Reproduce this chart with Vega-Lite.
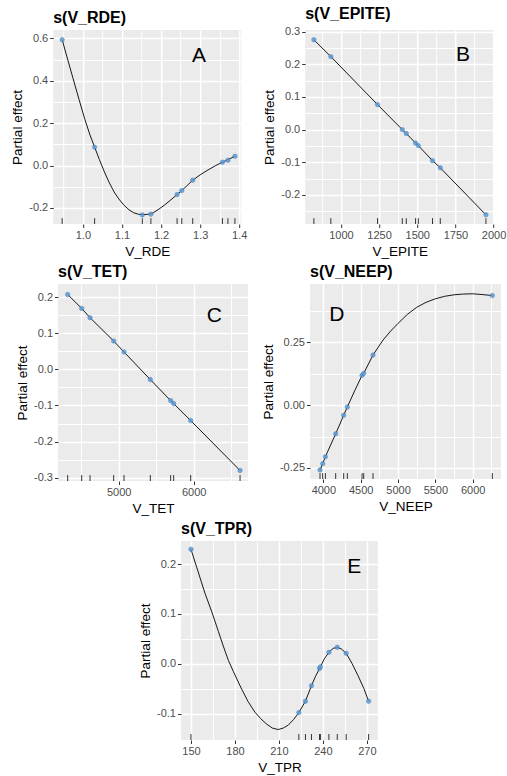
{
"$schema": "https://vega.github.io/schema/vega-lite/v6.json",
"padding": {"left": 10, "top": 5, "right": 2, "bottom": 2},
"datasets": {
"A_pts": [{"x":0.947,"y":0.594},{"x":1.030,"y":0.087},{"x":1.152,"y":-0.233},{"x":1.174,"y":-0.230},{"x":1.241,"y":-0.137},{"x":1.253,"y":-0.118},{"x":1.281,"y":-0.069},{"x":1.357,"y":0.016},{"x":1.371,"y":0.025},{"x":1.389,"y":0.044}],
"A_curve": [{"x":0.947,"y":0.594},{"x":0.960,"y":0.508},{"x":0.975,"y":0.410},{"x":0.990,"y":0.313},{"x":1.005,"y":0.218},{"x":1.018,"y":0.145},{"x":1.030,"y":0.087},{"x":1.042,"y":0.029},{"x":1.055,"y":-0.030},{"x":1.068,"y":-0.083},{"x":1.080,"y":-0.125},{"x":1.092,"y":-0.158},{"x":1.105,"y":-0.187},{"x":1.118,"y":-0.209},{"x":1.130,"y":-0.223},{"x":1.142,"y":-0.230},{"x":1.155,"y":-0.232},{"x":1.168,"y":-0.230},{"x":1.180,"y":-0.223},{"x":1.195,"y":-0.205},{"x":1.210,"y":-0.185},{"x":1.225,"y":-0.162},{"x":1.241,"y":-0.137},{"x":1.253,"y":-0.118},{"x":1.267,"y":-0.094},{"x":1.281,"y":-0.069},{"x":1.300,"y":-0.044},{"x":1.320,"y":-0.021},{"x":1.340,"y":0.000},{"x":1.357,"y":0.016},{"x":1.371,"y":0.028},{"x":1.389,"y":0.044}],
"B_pts": [{"x":823,"y":0.275},{"x":934,"y":0.2235},{"x":1240,"y":0.0765},{"x":1402,"y":0.0},{"x":1428,"y":-0.012},{"x":1489,"y":-0.041},{"x":1507,"y":-0.049},{"x":1600,"y":-0.095},{"x":1651,"y":-0.117},{"x":1950,"y":-0.261}],
"C_pts": [{"x":4320,"y":0.207},{"x":4507,"y":0.1685},{"x":4618,"y":0.1427},{"x":4933,"y":0.0783},{"x":5071,"y":0.0479},{"x":5422,"y":-0.0285},{"x":5693,"y":-0.0866},{"x":5733,"y":-0.0948},{"x":5960,"y":-0.1418},{"x":6618,"y":-0.280}],
"D_pts": [{"x":3955,"y":-0.258},{"x":3991,"y":-0.233},{"x":4027,"y":-0.205},{"x":4165,"y":-0.114},{"x":4272,"y":-0.040},{"x":4321,"y":-0.007},{"x":4518,"y":0.119},{"x":4540,"y":0.127},{"x":4665,"y":0.200},{"x":6263,"y":0.437}],
"D_curve": [{"x":3955,"y":-0.258},{"x":3991,"y":-0.233},{"x":4027,"y":-0.205},{"x":4165,"y":-0.114},{"x":4272,"y":-0.040},{"x":4321,"y":-0.007},{"x":4420,"y":0.058},{"x":4518,"y":0.119},{"x":4540,"y":0.127},{"x":4665,"y":0.200},{"x":4800,"y":0.260},{"x":4900,"y":0.295},{"x":5000,"y":0.326},{"x":5125,"y":0.362},{"x":5250,"y":0.390},{"x":5375,"y":0.410},{"x":5500,"y":0.424},{"x":5625,"y":0.434},{"x":5750,"y":0.440},{"x":5875,"y":0.443},{"x":6000,"y":0.444},{"x":6125,"y":0.441},{"x":6263,"y":0.437}],
"E_pts": [{"x":150,"y":0.230},{"x":223.6,"y":-0.098},{"x":228.1,"y":-0.075},{"x":232.2,"y":-0.044},{"x":237.7,"y":-0.0094},{"x":238.3,"y":-0.006},{"x":244.1,"y":0.023},{"x":249.8,"y":0.033},{"x":255.9,"y":0.021},{"x":271.2,"y":-0.075}],
"E_curve": [{"x":150,"y":0.230},{"x":154,"y":0.193},{"x":159.5,"y":0.142},{"x":164,"y":0.106},{"x":168.7,"y":0.065},{"x":172,"y":0.036},{"x":175.5,"y":0.007},{"x":179,"y":-0.016},{"x":184.6,"y":-0.051},{"x":189,"y":-0.076},{"x":193.6,"y":-0.097},{"x":197.5,"y":-0.110},{"x":201.6,"y":-0.121},{"x":205.5,"y":-0.129},{"x":209.5,"y":-0.132},{"x":213,"y":-0.129},{"x":216.4,"y":-0.123},{"x":220,"y":-0.112},{"x":223.6,"y":-0.098},{"x":228.1,"y":-0.075},{"x":232.2,"y":-0.044},{"x":235,"y":-0.025},{"x":238,"y":-0.008},{"x":241,"y":0.010},{"x":244.1,"y":0.023},{"x":247,"y":0.031},{"x":249.8,"y":0.033},{"x":252.5,"y":0.030},{"x":255.9,"y":0.021},{"x":260,"y":0.000},{"x":264,"y":-0.024},{"x":268,"y":-0.050},{"x":271.2,"y":-0.075}]
},
"vconcat": [
{"hconcat": [
{"title": "s(V_RDE)", "width": 188, "height": 194,
 "layer": [
  {"data": {"name": "A_curve"}, "mark": {"type": "line", "color": "#000000", "strokeWidth": 0.9},
   "encoding": {
    "x": {"field": "x", "type": "quantitative", "scale": {"domain": [0.924, 1.405], "nice": false, "zero": false},
      "axis": {"title": "V_RDE", "values": [0.95, 1.0, 1.05, 1.1, 1.15, 1.2, 1.25, 1.3, 1.35, 1.4], "tickCount": 40, "format": ".1f", "labelOverlap": false,
        "labelExpr": "indexof([0.95, 1.05, 1.15, 1.25, 1.35], datum.value) >= 0 ? '' : datum.label",
        "gridWidth": {"condition": {"test": "indexof([0.95, 1.05, 1.15, 1.25, 1.35], datum.value) >= 0", "value": 1}, "value": 1.5},
        "tickOpacity": {"condition": {"test": "indexof([0.95, 1.05, 1.15, 1.25, 1.35], datum.value) >= 0", "value": 0}, "value": 1}}},
    "y": {"field": "y", "type": "quantitative", "scale": {"domain": [-0.276, 0.64], "nice": false, "zero": false},
      "axis": {"title": "Partial effect", "values": [-0.2, -0.1, 0, 0.1, 0.2, 0.3, 0.4, 0.5, 0.6], "tickCount": 40, "format": ".1f", "labelOverlap": false,
        "labelExpr": "indexof([-0.1, 0.1, 0.3, 0.5], datum.value) >= 0 ? '' : datum.label",
        "gridWidth": {"condition": {"test": "indexof([-0.1, 0.1, 0.3, 0.5], datum.value) >= 0", "value": 1}, "value": 1.5},
        "tickOpacity": {"condition": {"test": "indexof([-0.1, 0.1, 0.3, 0.5], datum.value) >= 0", "value": 0}, "value": 1}}}}},
  {"data": {"name": "A_pts"}, "mark": {"type": "circle", "size": 20, "color": "#5B9BD5", "opacity": 0.85, "stroke": "#3A75B0", "strokeWidth": 0.5},
   "encoding": {
    "x": {"field": "x", "type": "quantitative", "scale": {"domain": [0.924, 1.405], "nice": false, "zero": false}},
    "y": {"field": "y", "type": "quantitative", "scale": {"domain": [-0.276, 0.64], "nice": false, "zero": false}}}},
  {"data": {"name": "A_pts"}, "mark": {"type": "rule", "color": "#333333", "strokeWidth": 1},
   "encoding": {
    "x": {"field": "x", "type": "quantitative", "scale": {"domain": [0.924, 1.405], "nice": false, "zero": false}},
    "y": {"datum": -0.276, "type": "quantitative", "scale": {"domain": [-0.276, 0.64], "nice": false, "zero": false}},
    "y2": {"datum": -0.2485}}},
  {"data": {"values": [{"label": "A"}]}, "mark": {"type": "text", "fontSize": 21, "color": "#000000", "align": "center", "baseline": "middle"},
   "encoding": {
    "text": {"field": "label"},
    "x": {"datum": 1.297, "type": "quantitative", "scale": {"domain": [0.924, 1.405], "nice": false, "zero": false}},
    "y": {"datum": 0.515, "type": "quantitative", "scale": {"domain": [-0.276, 0.64], "nice": false, "zero": false}}}}
 ]},
{"title": "s(V_EPITE)", "width": 189, "height": 194,
 "layer": [
  {"data": {"name": "B_pts"}, "mark": {"type": "line", "color": "#000000", "strokeWidth": 0.9},
   "encoding": {
    "x": {"field": "x", "type": "quantitative", "scale": {"domain": [766, 2004], "nice": false, "zero": false},
      "axis": {"title": "V_EPITE", "values": [875, 1000, 1125, 1250, 1375, 1500, 1625, 1750, 1875, 2000], "tickCount": 40, "format": "d", "labelOverlap": false,
        "labelExpr": "indexof([875, 1125, 1375, 1625, 1875], datum.value) >= 0 ? '' : datum.label",
        "gridWidth": {"condition": {"test": "indexof([875, 1125, 1375, 1625, 1875], datum.value) >= 0", "value": 1}, "value": 1.5},
        "tickOpacity": {"condition": {"test": "indexof([875, 1125, 1375, 1625, 1875], datum.value) >= 0", "value": 0}, "value": 1}}},
    "y": {"field": "y", "type": "quantitative", "scale": {"domain": [-0.289, 0.305], "nice": false, "zero": false},
      "axis": {"title": "Partial effect", "values": [-0.25, -0.2, -0.15, -0.1, -0.05, 0, 0.05, 0.1, 0.15, 0.2, 0.25, 0.3], "tickCount": 40, "format": ".1f", "labelOverlap": false,
        "labelExpr": "indexof([-0.25, -0.15, -0.05, 0.05, 0.15, 0.25], datum.value) >= 0 ? '' : datum.label",
        "gridWidth": {"condition": {"test": "indexof([-0.25, -0.15, -0.05, 0.05, 0.15, 0.25], datum.value) >= 0", "value": 1}, "value": 1.5},
        "tickOpacity": {"condition": {"test": "indexof([-0.25, -0.15, -0.05, 0.05, 0.15, 0.25], datum.value) >= 0", "value": 0}, "value": 1}}}}},
  {"data": {"name": "B_pts"}, "mark": {"type": "circle", "size": 20, "color": "#5B9BD5", "opacity": 0.85, "stroke": "#3A75B0", "strokeWidth": 0.5},
   "encoding": {
    "x": {"field": "x", "type": "quantitative", "scale": {"domain": [766, 2004], "nice": false, "zero": false}},
    "y": {"field": "y", "type": "quantitative", "scale": {"domain": [-0.289, 0.305], "nice": false, "zero": false}}}},
  {"data": {"name": "B_pts"}, "mark": {"type": "rule", "color": "#333333", "strokeWidth": 1},
   "encoding": {
    "x": {"field": "x", "type": "quantitative", "scale": {"domain": [766, 2004], "nice": false, "zero": false}},
    "y": {"datum": -0.289, "type": "quantitative", "scale": {"domain": [-0.289, 0.305], "nice": false, "zero": false}},
    "y2": {"datum": -0.2712}}},
  {"data": {"values": [{"label": "B"}]}, "mark": {"type": "text", "fontSize": 21, "color": "#000000", "align": "center", "baseline": "middle"},
   "encoding": {
    "text": {"field": "label"},
    "x": {"datum": 1799, "type": "quantitative", "scale": {"domain": [766, 2004], "nice": false, "zero": false}},
    "y": {"datum": 0.229, "type": "quantitative", "scale": {"domain": [-0.289, 0.305], "nice": false, "zero": false}}}}
 ]}
], "spacing": 15},
{"hconcat": [
{"title": "s(V_TET)", "width": 190, "height": 197,
 "layer": [
  {"data": {"name": "C_pts"}, "mark": {"type": "line", "color": "#000000", "strokeWidth": 0.9},
   "encoding": {
    "x": {"field": "x", "type": "quantitative", "scale": {"domain": [4191, 6724], "nice": false, "zero": false},
      "axis": {"title": "V_TET", "values": [4500, 5000, 5500, 6000, 6500], "tickCount": 40, "format": "d", "labelOverlap": false,
        "labelExpr": "indexof([4500, 5500, 6500], datum.value) >= 0 ? '' : datum.label",
        "gridWidth": {"condition": {"test": "indexof([4500, 5500, 6500], datum.value) >= 0", "value": 1}, "value": 1.5},
        "tickOpacity": {"condition": {"test": "indexof([4500, 5500, 6500], datum.value) >= 0", "value": 0}, "value": 1}}},
    "y": {"field": "y", "type": "quantitative", "scale": {"domain": [-0.309, 0.236], "nice": false, "zero": false},
      "axis": {"title": "Partial effect", "values": [-0.3, -0.25, -0.2, -0.15, -0.1, -0.05, 0, 0.05, 0.1, 0.15, 0.2], "tickCount": 40, "format": ".1f", "labelOverlap": false,
        "labelExpr": "indexof([-0.25, -0.15, -0.05, 0.05, 0.15], datum.value) >= 0 ? '' : datum.label",
        "gridWidth": {"condition": {"test": "indexof([-0.25, -0.15, -0.05, 0.05, 0.15], datum.value) >= 0", "value": 1}, "value": 1.5},
        "tickOpacity": {"condition": {"test": "indexof([-0.25, -0.15, -0.05, 0.05, 0.15], datum.value) >= 0", "value": 0}, "value": 1}}}}},
  {"data": {"name": "C_pts"}, "mark": {"type": "circle", "size": 20, "color": "#5B9BD5", "opacity": 0.85, "stroke": "#3A75B0", "strokeWidth": 0.5},
   "encoding": {
    "x": {"field": "x", "type": "quantitative", "scale": {"domain": [4191, 6724], "nice": false, "zero": false}},
    "y": {"field": "y", "type": "quantitative", "scale": {"domain": [-0.309, 0.236], "nice": false, "zero": false}}}},
  {"data": {"name": "C_pts"}, "mark": {"type": "rule", "color": "#333333", "strokeWidth": 1},
   "encoding": {
    "x": {"field": "x", "type": "quantitative", "scale": {"domain": [4191, 6724], "nice": false, "zero": false}},
    "y": {"datum": -0.309, "type": "quantitative", "scale": {"domain": [-0.309, 0.236], "nice": false, "zero": false}},
    "y2": {"datum": -0.2926}}},
  {"data": {"values": [{"label": "C"}]}, "mark": {"type": "text", "fontSize": 21, "color": "#000000", "align": "center", "baseline": "middle"},
   "encoding": {
    "text": {"field": "label"},
    "x": {"datum": 6276, "type": "quantitative", "scale": {"domain": [4191, 6724], "nice": false, "zero": false}},
    "y": {"datum": 0.147, "type": "quantitative", "scale": {"domain": [-0.309, 0.236], "nice": false, "zero": false}}}}
 ]},
{"title": "s(V_NEEP)", "width": 191, "height": 195,
 "layer": [
  {"data": {"name": "D_curve"}, "mark": {"type": "line", "color": "#000000", "strokeWidth": 0.9},
   "encoding": {
    "x": {"field": "x", "type": "quantitative", "scale": {"domain": [3821, 6379], "nice": false, "zero": false},
      "axis": {"title": "V_NEEP", "values": [4000, 4250, 4500, 4750, 5000, 5250, 5500, 5750, 6000, 6250], "tickCount": 40, "format": "d", "labelOverlap": false,
        "labelExpr": "indexof([4250, 4750, 5250, 5750, 6250], datum.value) >= 0 ? '' : datum.label",
        "gridWidth": {"condition": {"test": "indexof([4250, 4750, 5250, 5750, 6250], datum.value) >= 0", "value": 1}, "value": 1.5},
        "tickOpacity": {"condition": {"test": "indexof([4250, 4750, 5250, 5750, 6250], datum.value) >= 0", "value": 0}, "value": 1}}},
    "y": {"field": "y", "type": "quantitative", "scale": {"domain": [-0.294, 0.483], "nice": false, "zero": false},
      "axis": {"title": "Partial effect", "values": [-0.25, -0.125, 0, 0.125, 0.25, 0.375], "tickCount": 40, "format": ".2f", "labelOverlap": false,
        "labelExpr": "indexof([-0.125, 0.125, 0.375], datum.value) >= 0 ? '' : datum.label",
        "gridWidth": {"condition": {"test": "indexof([-0.125, 0.125, 0.375], datum.value) >= 0", "value": 1}, "value": 1.5},
        "tickOpacity": {"condition": {"test": "indexof([-0.125, 0.125, 0.375], datum.value) >= 0", "value": 0}, "value": 1}}}}},
  {"data": {"name": "D_pts"}, "mark": {"type": "circle", "size": 20, "color": "#5B9BD5", "opacity": 0.85, "stroke": "#3A75B0", "strokeWidth": 0.5},
   "encoding": {
    "x": {"field": "x", "type": "quantitative", "scale": {"domain": [3821, 6379], "nice": false, "zero": false}},
    "y": {"field": "y", "type": "quantitative", "scale": {"domain": [-0.294, 0.483], "nice": false, "zero": false}}}},
  {"data": {"name": "D_pts"}, "mark": {"type": "rule", "color": "#333333", "strokeWidth": 1},
   "encoding": {
    "x": {"field": "x", "type": "quantitative", "scale": {"domain": [3821, 6379], "nice": false, "zero": false}},
    "y": {"datum": -0.294, "type": "quantitative", "scale": {"domain": [-0.294, 0.483], "nice": false, "zero": false}},
    "y2": {"datum": -0.2707}}},
  {"data": {"values": [{"label": "D"}]}, "mark": {"type": "text", "fontSize": 21, "color": "#000000", "align": "center", "baseline": "middle"},
   "encoding": {
    "text": {"field": "label"},
    "x": {"datum": 4179, "type": "quantitative", "scale": {"domain": [3821, 6379], "nice": false, "zero": false}},
    "y": {"datum": 0.36, "type": "quantitative", "scale": {"domain": [-0.294, 0.483], "nice": false, "zero": false}}}}
 ]}
], "spacing": 13},
{"title": "s(V_TPR)", "width": 197, "height": 199,
 "layer": [
  {"data": {"name": "E_curve"}, "mark": {"type": "line", "color": "#000000", "strokeWidth": 0.9},
   "encoding": {
    "x": {"field": "x", "type": "quantitative", "scale": {"domain": [143.2, 277.6], "nice": false, "zero": false},
      "axis": {"title": "V_TPR", "values": [150, 165, 180, 195, 210, 225, 240, 255, 270], "tickCount": 40, "format": "d", "labelOverlap": false,
        "labelExpr": "indexof([165, 195, 225, 255], datum.value) >= 0 ? '' : datum.label",
        "gridWidth": {"condition": {"test": "indexof([165, 195, 225, 255], datum.value) >= 0", "value": 1}, "value": 1.5},
        "tickOpacity": {"condition": {"test": "indexof([165, 195, 225, 255], datum.value) >= 0", "value": 0}, "value": 1}}},
    "y": {"field": "y", "type": "quantitative", "scale": {"domain": [-0.153, 0.2465], "nice": false, "zero": false},
      "axis": {"title": "Partial effect", "values": [-0.1, -0.05, 0, 0.05, 0.1, 0.15, 0.2], "tickCount": 40, "format": ".1f", "labelOverlap": false,
        "labelExpr": "indexof([-0.05, 0.05, 0.15], datum.value) >= 0 ? '' : datum.label",
        "gridWidth": {"condition": {"test": "indexof([-0.05, 0.05, 0.15], datum.value) >= 0", "value": 1}, "value": 1.5},
        "tickOpacity": {"condition": {"test": "indexof([-0.05, 0.05, 0.15], datum.value) >= 0", "value": 0}, "value": 1}}}}},
  {"data": {"name": "E_pts"}, "mark": {"type": "circle", "size": 20, "color": "#5B9BD5", "opacity": 0.85, "stroke": "#3A75B0", "strokeWidth": 0.5},
   "encoding": {
    "x": {"field": "x", "type": "quantitative", "scale": {"domain": [143.2, 277.6], "nice": false, "zero": false}},
    "y": {"field": "y", "type": "quantitative", "scale": {"domain": [-0.153, 0.2465], "nice": false, "zero": false}}}},
  {"data": {"name": "E_pts"}, "mark": {"type": "rule", "color": "#333333", "strokeWidth": 1},
   "encoding": {
    "x": {"field": "x", "type": "quantitative", "scale": {"domain": [143.2, 277.6], "nice": false, "zero": false}},
    "y": {"datum": -0.153, "type": "quantitative", "scale": {"domain": [-0.153, 0.2465], "nice": false, "zero": false}},
    "y2": {"datum": -0.141}}},
  {"data": {"values": [{"label": "E"}]}, "mark": {"type": "text", "fontSize": 21, "color": "#000000", "align": "center", "baseline": "middle"},
   "encoding": {
    "text": {"field": "label"},
    "x": {"datum": 261.4, "type": "quantitative", "scale": {"domain": [143.2, 277.6], "nice": false, "zero": false}},
    "y": {"datum": 0.194, "type": "quantitative", "scale": {"domain": [-0.153, 0.2465], "nice": false, "zero": false}}}}
 ]}
],
"spacing": 6,
"center": true,
"config": {
 "font": "Liberation Sans",
 "locale": {"number": {"decimal": ".", "thousands": ",", "grouping": [3], "currency": ["$", ""], "minus": "-"}},
 "view": {"fill": "#EBEBEB", "stroke": null},
 "axis": {"domain": false, "grid": true, "gridColor": "#FFFFFF", "gridOpacity": 1, "tickColor": "#333333", "tickSize": 3.5, "labelColor": "#4D4D4D", "labelFontSize": 11, "labelPadding": 2, "labelOverlap": false, "labelFlush": false, "titleFontWeight": "normal", "titleColor": "#000000", "titlePadding": 4, "titleFontSize": 13.5},
 "title": {"anchor": "start", "frame": "group", "fontSize": 16, "fontWeight": "bold", "offset": 4, "color": "#000000"}
}
}
